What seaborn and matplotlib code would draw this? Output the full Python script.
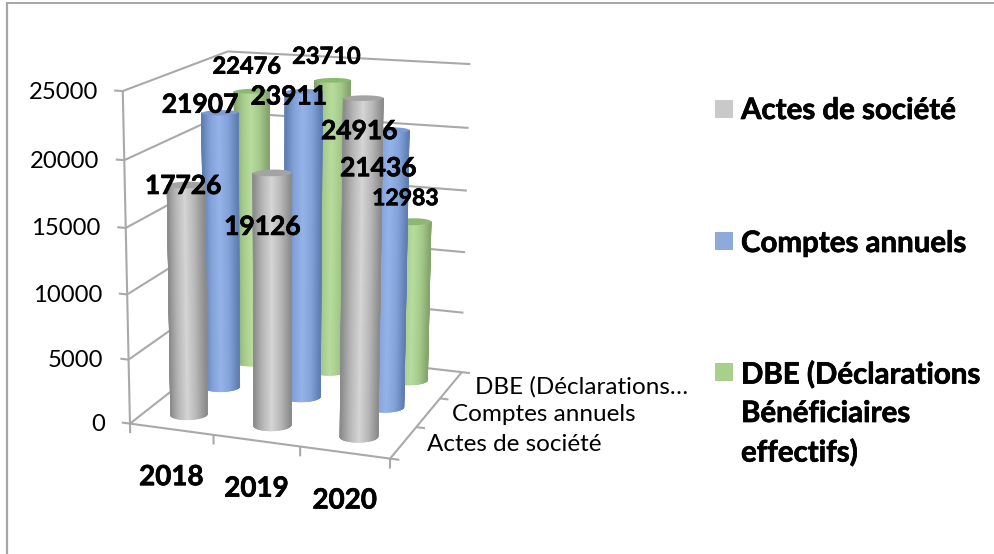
import matplotlib
matplotlib.use("Agg")  # headless
import matplotlib.patheffects as pe
import matplotlib.pyplot as plt
import numpy as np
import seaborn as sns
from matplotlib.lines import Line2D
from matplotlib.patches import Rectangle
from mpl_toolkits.mplot3d.art3d import Line3DCollection, Poly3DCollection

W, H = 994, 554

# ---------------------------------------------------------------------------
# Data
# ---------------------------------------------------------------------------
years = ["2018", "2019", "2020"]
series_short = ["Actes de société", "Comptes annuels", "DBE (Déclarations…"]
actes = [17726, 19126, 24916]
comptes = [21907, 23911, 21436]
dbe = [22476, 23710, 12983]
z_ticks = [0, 5000, 10000, 15000, 20000, 25000]

legend_lines = [
    ["Actes de société"],
    ["Comptes annuels"],
    ["DBE (Déclarations", "Bénéficiaires", "effectifs)"],
]

Z_MAX = z_ticks[-1]
rows = [actes, comptes, dbe]

# label offsets from the top of each cylinder, pixels, and font size
label_style = [
    [(-3, 1, 19), (-10, 54, 19), (-4, 33, 19)],
    [(-20, -8, 19), (-15, 5, 19), (-12, 38, 19)],
    [(-5, -25, 17), (-6, -24, 17), (-8, -23, 16.5)],
]

# cylinder colours: edge, mid, highlight, top cap, legend swatch
tones = [
    ("#8c8c8c", "#b8b8b8", "#d6d6d6", "#a3a3a3", "#c9c9c9"),
    ("#5f7fb4", "#83a3da", "#94b4ea", "#7c9bd2", "#8eaadb"),
    ("#84a56c", "#a6cc8c", "#b8dd9e", "#8cb970", "#a8d08d"),
]

# camera: world point (x, depth, value / Z_MAX) -> picture pixel
camera_world = np.array([
    (0, 0, 0), (3, 0, 0), (3, 3, 0), (3, 3, 1), (0, 0, 1), (0, 3, 1),
    (1, 0, 0), (2, 0, 0), (3, 1, 0), (3, 2, 0), (3, 3, .8), (3, 3, .6), (3, 3, .4),
    (0, 0, .8), (0, 0, .6), (0, 0, .2),
    (.5, .5, 0), (1.5, .5, 0), (2.5, .5, 0), (.5, 1.5, 0), (1.5, 1.5, 0), (2.5, 1.5, 0),
    (.5, 2.5, 0), (1.5, 2.5, 0), (2.5, 2.5, 0),
    (.5, .5, .70904), (1.5, .5, .76504), (2.5, .5, .99664),
    (.5, 1.5, .87628), (1.5, 1.5, .95644), (2.5, 1.5, .85744),
    (.5, 2.5, .89904), (1.5, 2.5, .9484), (2.5, 2.5, .51932),
], dtype=float)
camera_px = np.array([
    (131, 424), (388, 458), (461, 372), (470, 64), (122, 90), (228, 52),
    (214, 435), (299, 447), (415, 427), (438, 398), (468, 128), (465, 191), (464, 252),
    (125, 158), (127, 227), (128, 359),
    (189, 414), (272, 426), (358, 438), (223, 387), (305, 397), (390, 407),
    (247, 361), (330, 370), (415, 380),
    (186, 190), (272, 173), (362, 98),
    (220, 113), (303, 90), (393, 130),
    (252, 92), (332, 80), (417, 222),
], dtype=float)


def fit_camera(world, px):
    """Least squares 3x4 projective camera, in value units for the z column."""
    a, b = [], []
    for (x, y, z), (u, v) in zip(world, px):
        a.append([x, y, z, 1, 0, 0, 0, 0, -u * x, -u * y, -u * z])
        b.append(u)
        a.append([0, 0, 0, 0, x, y, z, 1, -v * x, -v * y, -v * z])
        b.append(v)
    p = np.linalg.lstsq(np.array(a), np.array(b), rcond=None)[0]
    cam = np.append(p, 1.0).reshape(3, 4)
    cam[:, 2] /= Z_MAX
    return cam


P = fit_camera(camera_world, camera_px)


def to_px(x, y, z):
    u, v, w = P @ np.array([x, y, z, 1.0])
    return u / w, v / w


def fig_text(px, py, s, **kw):
    fig.text(px / W, 1 - py / H, s, va="center", **kw)


sns.set_theme(style="white")
plt.rcParams["font.family"] = ["Lato", "DejaVu Sans"]
heavy = [pe.withStroke(linewidth=0.5, foreground="black")]

fig = plt.figure(figsize=(W / 100, H / 100), dpi=100, facecolor="white")
ax = fig.add_axes([0, 0, H / W, 1], projection="3d", computed_zorder=False)
ax.set_axis_off()
ax.patch.set_visible(False)

# walls and floor (only the front left upright is drawn)
segments = [[(0, 0, 0), (0, 0, Z_MAX)]]
for z in z_ticks:
    segments.append([(0, 0, z), (0, 3, z)])
    segments.append([(0, 3, z), (3, 3, z)])
    segments.append([(-0.1, 0, z), (0, 0, z)])
segments.append([(0, 0, 0), (3, 0, 0)])
segments.append([(3, 0, 0), (3, 3, 0)])
for i in range(len(years) + 1):
    segments.append([(i, 0, 0), (i, 0, -750)])
    segments.append([(3, i, 0), (3.1, i, 0)])
ax.add_collection3d(Line3DCollection(segments, colors="#a9a9a9", linewidths=1.5, zorder=1))

# cylinders, back row first
t = np.linspace(np.pi, 2 * np.pi, 61)
t_full = np.linspace(0, 2 * np.pi, 73)
order = 10
for j in reversed(range(len(rows))):
    edge, mid, light, cap, _ = tones[j]
    cmap = sns.blend_palette([edge, mid, light, mid, edge], as_cmap=True)
    for i, v in enumerate(rows[j]):
        cx, cy = i + 0.5, j + 0.5
        xs = cx + 0.19 * np.cos(t) - 0.045 * np.sin(t)
        ys = cy + 0.075 * np.cos(t) + 0.161 * np.sin(t)
        fc = cmap((np.cos(t) + 1) / 2)
        ax.plot_surface(
            np.vstack([xs, xs]), np.vstack([ys, ys]),
            np.vstack([np.zeros_like(xs), np.full_like(xs, v)]),
            facecolors=np.stack([fc, fc]), rstride=1, cstride=1,
            shade=False, linewidth=0.7, antialiased=True, snap=False, zorder=order,
        )
        xc = cx + 0.19 * np.cos(t_full) - 0.045 * np.sin(t_full)
        yc = cy + 0.075 * np.cos(t_full) + 0.161 * np.sin(t_full)
        top = Poly3DCollection(
            [list(zip(xc, yc, np.full_like(xc, v)))],
            facecolors=cap, edgecolors="none", zorder=order + 0.5,
        )
        ax.add_collection3d(top)
        order += 1

# swap the default view for the fitted camera (pixels -> 2d view of this axes)
ax.apply_aspect()
to_view = ax.transData.inverted().get_affine().get_matrix() @ np.array(
    [[1, 0, 0], [0, -1, H], [0, 0, 1]], dtype=float)
view_cam = to_view @ P
proj = np.vstack([view_cam[0], view_cam[1], [0, 0, 0, 1], view_cam[2]])
ax.get_proj = lambda: proj

# value labels on the bars
for j, row in enumerate(rows):
    for i, v in enumerate(row):
        u, w = to_px(i + 0.5, j + 0.5, v)
        du, dv, size = label_style[j][i]
        fig_text(u + du, w + dv, str(v), ha="center", fontsize=size,
                 fontweight="bold", color="black", zorder=5, path_effects=heavy)

# axis labels
for z in z_ticks:
    u, w = to_px(0, 0, z)
    fig_text(u - 25, w + 1, str(z), ha="right", fontsize=17.2, color="black")
for i, y in enumerate(years):
    u, w = to_px(i + 0.5, 0, 0)
    fig_text(u, w + 48, y, ha="center", fontsize=20, fontweight="bold", color="black",
             path_effects=heavy)
for j, s in enumerate(series_short):
    u, w = to_px(3, j + 0.5, 0)
    fig_text(u + 24, w + 2, s, ha="left", fontsize=17.5, color="black")

# legend
swatch_y = [109, 241, 372]
line_y = [[111], [244], [375, 414, 453]]
for j, lines in enumerate(legend_lines):
    fig.add_artist(Rectangle((715 / W, 1 - (swatch_y[j] + 9) / H), 18 / W, 18 / H,
                             transform=fig.transFigure, facecolor=tones[j][4], edgecolor="none"))
    for s, ly in zip(lines, line_y[j]):
        fig_text(741, ly, s, ha="left", fontsize=21.2, fontweight="bold", color="black",
                 path_effects=heavy)

# chart frame (left and top only)
frame = "#a6a6a6"
fig.add_artist(Line2D([7 / W, 7 / W], [0, 1 - 3 / H], color=frame, lw=1.6))
fig.add_artist(Line2D([7 / W, 1], [1 - 3 / H, 1 - 3 / H], color=frame, lw=1.4))

fig.savefig("out.png", dpi=100)
plt.close(fig)
